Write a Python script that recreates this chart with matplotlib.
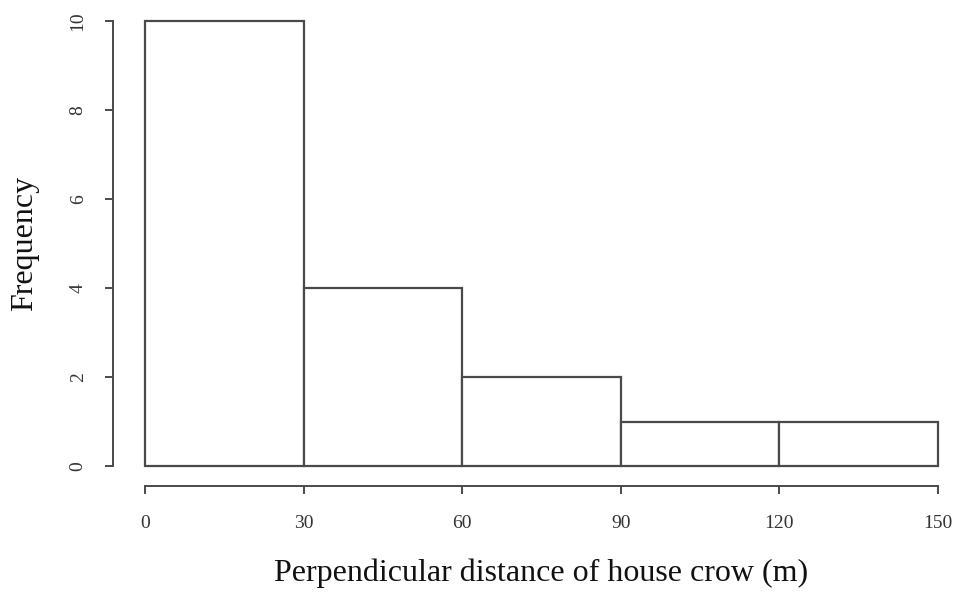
import numpy as np
import matplotlib.pyplot as plt

plt.rcParams['font.family'] = ['Liberation Serif', 'DejaVu Serif']

# histogram bins and counts
bin_edges = [0, 30, 60, 90, 120, 150]
counts = [10, 4, 2, 1, 1]
xticks = [0, 30, 60, 90, 120, 150]
yticks = [0, 2, 4, 6, 8, 10]

fig = plt.figure(figsize=(9.61, 5.92), dpi=100)
ax = fig.add_axes([145/961, 1-466/592, (938-145)/961, (466-21)/592])

ax.bar(bin_edges[:-1], counts, width=np.diff(bin_edges), align='edge',
       facecolor='white', edgecolor='#4a4a4a', linewidth=1.6, clip_on=False)

ax.set_xlim(0, 150)
ax.set_ylim(0, 10)

for s in ['top', 'right']:
    ax.spines[s].set_visible(False)
ax.spines['left'].set_position(('outward', 23))
ax.spines['bottom'].set_position(('outward', 14.4))
ax.spines['left'].set_bounds(0, 10)
ax.spines['bottom'].set_bounds(0, 150)
for s in ['left', 'bottom']:
    ax.spines[s].set_color('#4a4a4a')
    ax.spines[s].set_linewidth(1.4)

ax.set_xticks(xticks)
ax.set_yticks(yticks)
ax.tick_params(axis='both', colors='#4a4a4a', length=6, width=1.4,
               labelsize=14, labelcolor='#333333')
ax.tick_params(axis='x', pad=15)
ax.tick_params(axis='y', pad=13)
for lab in ax.get_yticklabels():
    lab.set_rotation(90)
    lab.set_va('center')

ax.set_xlabel('Perpendicular distance of house crow (m)', fontsize=23, labelpad=19, color='#111111')
ax.set_ylabel('Frequency', fontsize=23, labelpad=22, color='#111111')

fig.savefig('out.png', dpi=100)
